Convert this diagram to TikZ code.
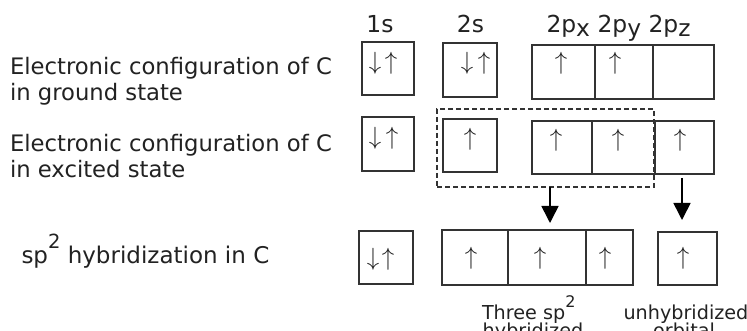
\documentclass[tikz,border=0pt]{standalone}
\usepackage{fontspec}
\setmainfont{DejaVu Sans}
\usetikzlibrary{arrows.meta}

\definecolor{ink}{HTML}{222222}
\definecolor{boxline}{HTML}{333333}

% one orbital cell: name, x1, y1, x2, y2 (pixel-like units, y downwards)
\newcommand\orbcell[5]{%
  \node[cell, minimum width={#4-#2}, minimum height={#5-#3}] (#1)
    at ({(#2+#4)/2},{(#3+#5)/2}) {};}
% electron spin arrows
\newcommand\spinup[3]{\node[spin] (#1) at (#2,#3) {$\uparrow$};}
\newcommand\spindown[3]{\node[spin] (#1) at (#2,#3) {$\downarrow$};}

\begin{document}
\begin{tikzpicture}[x=1pt, y=-1pt,
  cell/.style={draw=boxline, line width=1.4pt, rectangle, inner sep=0pt, outer sep=0pt},
  spin/.style={inner sep=0pt, outer sep=0pt, text=ink, font=\fontsize{26}{26}\selectfont},
  lbl/.style={inner sep=0pt, outer sep=0pt, text=ink, font=\fontsize{22.7}{26}\selectfont},
  headtxt/.style={lbl, font=\fontsize{23.4}{26}\selectfont},
  captxt/.style={lbl, font=\fontsize{19.2}{21}\selectfont},
  group/.style={draw=boxline, line width=1.3pt, dash pattern=on 5pt off 3pt, rectangle,
    inner sep=0pt, outer sep=0pt},
  bigarrow/.style={draw=black, line width=1.6pt, -{Triangle[length=17pt,width=17pt]}}]

\useasboundingbox (0,0) rectangle (747,331);
\clip (0,0) rectangle (747,331);
\fill[white] (0,0) rectangle (747,331);

% row labels
\node[lbl, anchor=base west] (g1) at (10,75) {Electronic configuration of C};
\node[lbl, anchor=base west] (g2) at (10,101) {in ground state};
\node[lbl, anchor=base west] (x1) at (10,152) {Electronic configuration of C};
\node[lbl, anchor=base west] (x2) at (10,178) {in excited state};
\node[lbl, anchor=base west, font=\fontsize{23}{26}\selectfont] (hl) at (21.5,263)
  {sp\raisebox{15pt}{\fontsize{19.5}{19}\selectfont 2} hybridization in C};

% column labels
\node[headtxt, anchor=base] (c1s) at (380,33) {1s};
\node[headtxt, anchor=base] (c2s) at (470.5,33) {2s};
\node[headtxt, anchor=base west] (c2p) at (546.5,33)
  {2p\raisebox{-4pt}{x} 2p\raisebox{-4pt}{y} 2p\raisebox{-4pt}{z}};

% ground state
\orbcell{ga}{362}{42}{414}{95}
\orbcell{gb}{443}{43}{497}{97}
\orbcell{gpx}{532}{45}{595}{99}
\orbcell{gpy}{595}{45}{653}{99}
\orbcell{gpz}{653}{45}{714}{99}
\spindown{ga1}{375}{63.5}\spinup{ga2}{391}{63.5}
\spindown{gb1}{467}{63.5}\spinup{gb2}{484}{63.5}
\spinup{gpx1}{561}{63.5}
\spinup{gpy1}{615}{63.5}

% excited state
\orbcell{ea}{362}{117}{414}{171}
\orbcell{eb}{443}{119}{497}{172}
\orbcell{epx}{532}{121}{592}{174}
\orbcell{epy}{592}{121}{655}{174}
\orbcell{epz}{655}{121}{714}{174}
\spindown{ea1}{375}{138}\spinup{ea2}{392}{138}
\spinup{eb1}{470}{139}
\spinup{epx1}{556}{140.5}
\spinup{epy1}{618}{140.5}
\spinup{epz1}{680}{140.5}

% orbitals that mix
\node[group, minimum width=217, minimum height=78] (mix) at (545.5,148) {};

% sp2 hybridized carbon
\orbcell{ha}{359}{231}{413}{284}
\orbcell{h1}{442}{230}{508}{285}
\orbcell{h2}{508}{230}{586}{285}
\orbcell{h3}{586}{230}{633}{285}
\orbcell{hu}{658}{232}{717}{285}
\spindown{ha1}{373}{259}\spinup{ha2}{388}{259}
\spinup{h1a}{471}{258.5}
\spinup{h2a}{540}{258.5}
\spinup{h3a}{605}{258.5}
\spinup{hua}{683}{258.5}

% transitions
\coordinate (axl) at (550,0);
\coordinate (axr) at (682,0);
\draw[bigarrow, shorten >=7pt] (mix.south -| axl) -- (h2.north -| axl);
\draw[bigarrow, shorten <=4pt, shorten >=12pt] (epz.south -| axr) -- (hu.north -| axr);

% captions under the hybrid orbitals
\node[captxt, anchor=base west] (t1) at (482,319)
  {Three sp\raisebox{12pt}{\fontsize{16}{16}\selectfont 2}};
\node[captxt, anchor=base] (t2) at (533,337) {hybridized};
\node[captxt, anchor=base west] (u1) at (623.5,319) {unhybridized};
\node[captxt, anchor=base] (u2) at (684,337) {orbital};
\end{tikzpicture}
\end{document}
